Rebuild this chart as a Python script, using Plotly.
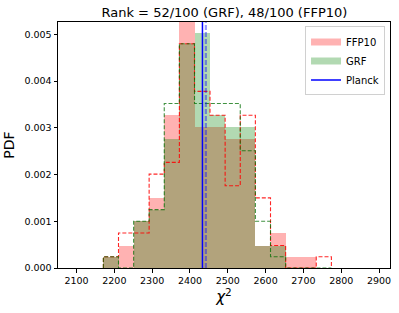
import numpy as np
import plotly.graph_objects as go

# ---- data ----
bin_edges = [2171, 2211, 2251, 2292, 2332, 2372, 2412, 2453, 2493, 2533,
             2573, 2613, 2653, 2694, 2734, 2774]
ffp10_fill = [0.00024, 0.00048, 0.00100, 0.00150, 0.00327, 0.00530, 0.00302,
              0.00302, 0.00276, 0.00276, 0.00048, 0.00075, 0.00024, 0.00024, 0.0]
grf_fill = [0.00024, 0.0, 0.00100, 0.00125, 0.00276, 0.00480, 0.00503,
            0.00327, 0.00302, 0.00302, 0.00048, 0.00048, 0.0, 0.0, 0.0]
ffp10_step = [0.00024, 0.00075, 0.00075, 0.00201, 0.00226, 0.00480, 0.00378,
              0.00327, 0.00176, 0.00327, 0.00150, 0.00048, 0.0, 0.0, 0.00024]
grf_step = [0.00024, 0.0, 0.00100, 0.00125, 0.00352, 0.00480, 0.00352,
            0.00352, 0.00352, 0.00251, 0.00100, 0.00024, 0.0, 0.0, 0.0]
planck_chi2 = 2433
mean_chi2 = 2442
x_ticks = [2100, 2200, 2300, 2400, 2500, 2600, 2700, 2800, 2900]
y_ticks = [0.000, 0.001, 0.002, 0.003, 0.004, 0.005]
title_text = "Rank = 52/100 (GRF), 48/100 (FFP10)"

x_range = [2051, 2929]
y_range = [0, 0.005265]

edges = np.array(bin_edges, dtype=float)
centers = (edges[:-1] + edges[1:]) / 2
widths = np.diff(edges)

FFP10_FILL = "rgba(255,0,0,0.3)"
GRF_FILL = "rgba(0,128,0,0.3)"


def step_path(vals):
    xs = [edges[0]] + list(edges) + [edges[-1]]
    ys = [0.0] + list(vals) + [vals[-1], 0.0]
    return xs, ys


fig = go.Figure()
fig.add_trace(go.Bar(x=centers, y=ffp10_fill, width=widths, name="FFP10", showlegend=False,
                     marker=dict(color=FFP10_FILL, line=dict(width=0))))
fig.add_trace(go.Bar(x=centers, y=grf_fill, width=widths, name="GRF", showlegend=False,
                     marker=dict(color=GRF_FILL, line=dict(width=0))))

xs, ys = step_path(ffp10_step)
fig.add_trace(go.Scatter(x=xs, y=ys, mode="lines", line_shape="hv", showlegend=False,
                         line=dict(color="rgba(255,0,0,0.85)", width=1.1, dash="4px,2px")))
xs, ys = step_path(grf_step)
fig.add_trace(go.Scatter(x=xs, y=ys, mode="lines", line_shape="hv", showlegend=False,
                         line=dict(color="rgba(0,110,0,0.75)", width=1.1, dash="4px,2px")))

fig.add_trace(go.Scatter(x=[mean_chi2, mean_chi2], y=y_range, mode="lines", showlegend=False,
                         line=dict(color="rgba(0,0,255,0.4)", width=2.2, dash="5px,2px")))
fig.add_trace(go.Scatter(x=[planck_chi2, planck_chi2], y=y_range, mode="lines", name="Planck",
                         showlegend=False, line=dict(color="blue", width=1.5)))

# legend entries (patch-like swatches)
fig.add_trace(go.Scatter(x=[None], y=[None], mode="lines", name="FFP10",
                         line=dict(color=FFP10_FILL, width=7)))
fig.add_trace(go.Scatter(x=[None], y=[None], mode="lines", name="GRF",
                         line=dict(color=GRF_FILL, width=7)))
fig.add_trace(go.Scatter(x=[None], y=[None], mode="lines", name="Planck",
                         line=dict(color="blue", width=1.5)))

font_family = "DejaVu Sans"
fig.update_layout(
    width=399, height=313,
    margin=dict(l=58, r=9, t=22, b=45, autoexpand=False),
    paper_bgcolor="white", plot_bgcolor="white",
    barmode="overlay", bargap=0,
    font=dict(family=font_family, color="black"),
    title=dict(text=title_text, x=0.5625, xanchor="center", y=0.96, yanchor="middle",
               font=dict(size=13, family=font_family)),
    legend=dict(x=0.985, xanchor="right", y=0.982, yanchor="top",
                bgcolor="rgba(255,255,255,0.8)", bordercolor="#d0d0d0", borderwidth=1,
                font=dict(size=10, family=font_family), tracegroupgap=0,
                itemwidth=30),
    showlegend=True,
)
fig.update_xaxes(range=x_range, tickvals=x_ticks, ticks="outside", ticklen=3.5,
                 tickcolor="black", showline=True, linecolor="black", linewidth=1,
                 mirror=True, showgrid=False, zeroline=False, automargin=False,
                 tickfont=dict(size=9.5, family=font_family),
                 title=dict(text="<i>χ</i><sup>2</sup>", font=dict(size=15, family=font_family),
                            standoff=2))
fig.update_yaxes(range=y_range, tickvals=y_ticks, tickformat=".3f", ticks="outside",
                 ticklen=3.5, tickcolor="black", showline=True, linecolor="black",
                 linewidth=1, mirror=True, showgrid=False, zeroline=False, automargin=False,
                 tickfont=dict(size=9.5, family=font_family),
                 title=dict(text="PDF", font=dict(size=14, family=font_family), standoff=6))

fig.write_html("out.html", config={"displayModeBar": False},
               post_script="document.body.style.margin='0';")
